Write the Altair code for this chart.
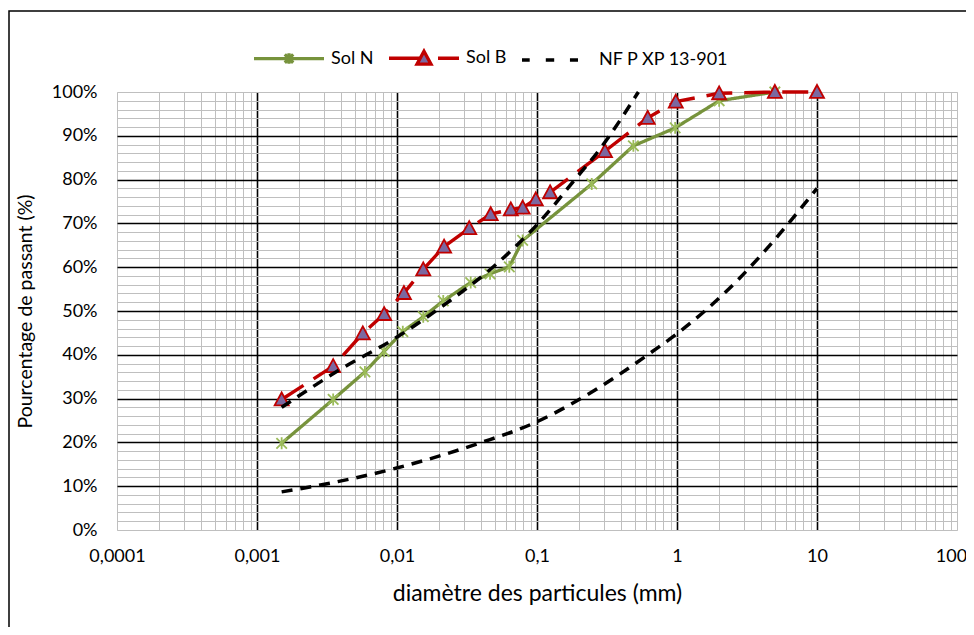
import altair as alt
import pandas as pd

series_names = ["Sol N", "Sol B", "NF P XP 13-901"]

# Sol N (green, asterisk markers)
sol_n_d = [0.0015, 0.0035, 0.0059, 0.0081, 0.011, 0.0154, 0.0214, 0.0336, 0.0462, 0.0634,
           0.079, 0.246, 0.488, 0.97, 2.0, 5.0]
sol_n_p = [19.8, 29.8, 36.1, 40.8, 45.3, 48.7, 52.3, 56.5, 58.5, 60.1,
           66.1, 79.0, 87.7, 91.8, 98.0, 100.0]

# Sol B (red dashed, triangle markers)
sol_b_d = [0.0015, 0.0035, 0.0057, 0.0081, 0.0112, 0.0154, 0.0217, 0.0328, 0.0467, 0.065,
           0.079, 0.098, 0.124, 0.306, 0.618, 0.98, 2.0, 5.0, 10.0]
sol_b_p = [29.8, 37.4, 44.9, 49.3, 54.1, 59.5, 64.7, 68.9, 72.1, 73.2,
           73.6, 75.5, 77.1, 86.5, 94.1, 97.8, 99.7, 100.0, 100.0]

# NF P XP 13-901 envelope (black dashed)
nf_upper_d = [0.0015, 0.0039, 0.00995, 0.0226, 0.0488, 0.111, 0.182, 0.282, 0.53]
nf_upper_p = [28.0, 36.6, 44.0, 51.8, 60.1, 71.3, 79.6, 87.0, 100.0]
nf_lower_d = [0.0015, 0.0031, 0.0098, 0.0393, 0.095, 0.216, 0.671, 0.98, 2.82, 4.0, 10.0]
nf_lower_p = [8.7, 10.5, 14.1, 19.9, 24.4, 30.4, 40.8, 44.6, 57.6, 62.8, 78.0]

x_decades = [0.0001, 0.001, 0.01, 0.1, 1, 10, 100]
y_ticks = list(range(0, 101, 2))

x_grid = []
for dec in x_decades[:-1]:
    for m in range(1, 10):
        x_grid.append(round(m * dec, 10))
x_grid.append(100)

rows_sol = []
for name, ds, ps in [("Sol N", sol_n_d, sol_n_p), ("Sol B", sol_b_d, sol_b_p)]:
    for i, (d, p) in enumerate(zip(ds, ps)):
        rows_sol.append({"d": d, "p": p, "series": name, "curve": name, "idx": i})
df_sol = pd.DataFrame(rows_sol)

rows_nf = []
for cname, ds, ps in [("upper", nf_upper_d, nf_upper_p), ("lower", nf_lower_d, nf_lower_p)]:
    for i, (d, p) in enumerate(zip(ds, ps)):
        rows_nf.append({"d": d, "p": p, "series": "NF P XP 13-901", "curve": cname, "idx": i})
df_nf = pd.DataFrame(rows_nf)

FONT = "Lato"
GRID_MINOR = "#BFBFBF"
GREEN = "#77933C"
GREEN_MARK = "#9BBB59"
RED = "#C00000"
PURPLE = "#7B68A0"

dec_test = "abs(log(datum.value)/LN10 - round(log(datum.value)/LN10)) < 1e-6"
x_major_test = dec_test + " && datum.value > 0.00011 && datum.value < 99"
y_major_test = "datum.value % 10 == 0 && datum.value > 0 && datum.value < 100"

x_axis = alt.Axis(
    values=x_grid, grid=True,
    gridColor={"condition": {"test": x_major_test, "value": "black"}, "value": GRID_MINOR},
    gridWidth={"condition": {"test": x_major_test, "value": 1.6}, "value": 1},
    labelExpr=dec_test + " ? replace(toString(datum.value), '.', ',') : ''",
    labelOffset={"condition": {"test": "datum.value > 99", "value": -6}, "value": 0},
    labelOverlap=False, labelFlush=False, labelFont=FONT, labelFontSize=18, labelColor="black",
    labelPadding=17, ticks=False, tickSize=0, domain=False,
    title="diamètre des particules (mm)", titleFont=FONT, titleFontSize=23,
    titleFontWeight="normal", titleColor="black", titleY=63, titleBaseline="middle",
)
y_axis = alt.Axis(
    values=y_ticks, grid=True,
    gridColor={"condition": {"test": y_major_test, "value": "black"}, "value": GRID_MINOR},
    gridWidth={"condition": {"test": y_major_test, "value": 1.6}, "value": 1},
    labelExpr="datum.value % 10 == 0 ? datum.value + '%' : ''",
    labelOverlap=False, labelFlush=False, labelFont=FONT, labelFontSize=18, labelColor="black",
    labelPadding=20, ticks=False, tickSize=0, domain=False,
    title="Pourcentage de passant (%)", titleFont=FONT, titleFontSize=19.5,
    titleFontWeight="normal", titleColor="black", titleX=-92, titleY=219,
    titleAngle=270, titleBaseline="middle",
)

x_enc = alt.X("d:Q", scale=alt.Scale(type="log", domain=[0.0001, 100], nice=False), axis=x_axis)
y_enc = alt.Y("p:Q", scale=alt.Scale(domain=[0, 100], nice=False), axis=y_axis)

# line styling scales (no legend here)
color_scale = alt.Scale(domain=series_names, range=[GREEN, RED, "black"])
dash_scale = alt.Scale(domain=series_names, range=[[1, 0], [26, 12], [11, 8]])
width_scale = alt.Scale(domain=series_names, range=[3.3, 3.5, 2.8])

color_enc = alt.Color("series:N", scale=color_scale, legend=None)
dash_enc = alt.StrokeDash("series:N", scale=dash_scale, legend=None)
width_enc = alt.StrokeWidth("series:N", scale=width_scale, legend=None)

# plot markers
asterisk = "M-0.15,-0.15L0.15,0.15M-0.15,0.15L0.15,-0.15M0,-0.17L0,0.17"
triangle = "M0,-0.2L0.2,0.17L-0.2,0.17Z"
mark_shape_scale = alt.Scale(domain=series_names, range=[asterisk, triangle, "M0,0"])
mark_fill_scale = alt.Scale(domain=series_names, range=["transparent", PURPLE, "transparent"])
mark_stroke_scale = alt.Scale(domain=series_names, range=[GREEN_MARK, RED, "transparent"])

# legend symbols: line + marker drawn as one symbol per entry
leg_n = "M-1,0H1M-0.12,-0.12L0.12,0.12M-0.12,0.12L0.12,-0.12M0,-0.15V0.15"
leg_b = "M-1,0H-0.12M0.4,0H1M0,-0.2L0.2,0.17L-0.2,0.17Z"
leg_nf = "M-1,0H-0.78M-0.32,0H-0.08M0.37,0H0.6"
leg_shape_scale = alt.Scale(domain=series_names, range=[leg_n, leg_b, leg_nf])
leg_fill_scale = alt.Scale(domain=series_names, range=["transparent", PURPLE, "transparent"])
leg_stroke_scale = alt.Scale(domain=series_names, range=[GREEN, RED, "black"])

legend = alt.Legend(
    title=None, orient="none", legendX=135, legendY=-71, direction="horizontal",
    symbolSize=4900, symbolStrokeWidth=3.3, symbolOpacity=1,
    labelFont=FONT, labelFontSize=18, labelColor="black", labelOffset=5,
    columnPadding=8, padding=0,
)

border = alt.Chart(alt.Data(values=[{"a": 1}])).mark_rect(
    fill="transparent", stroke="black", strokeWidth=1.5
).encode(
    x=alt.value(-108), x2=alt.value(900), y=alt.value(-81), y2=alt.value(700)
)

sol_lines = alt.Chart(df_sol).mark_line(strokeCap="butt", clip=False).encode(
    x=x_enc, y=y_enc, color=color_enc, strokeDash=dash_enc, strokeWidth=width_enc,
    detail="curve:N", order="idx:Q",
)

nf_lines = alt.Chart(df_nf).mark_line(strokeCap="butt", interpolate="monotone", clip=False).encode(
    x=x_enc, y=y_enc, color=color_enc, strokeDash=dash_enc, strokeWidth=width_enc,
    detail="curve:N", order="idx:Q",
)

points = alt.Chart(df_sol).mark_point(
    filled=True, size=4900, strokeWidth=1.8, opacity=1, fillOpacity=1, clip=False
).encode(
    x=x_enc, y=y_enc,
    shape=alt.Shape("series:N", scale=mark_shape_scale, legend=None),
    fill=alt.Fill("series:N", scale=mark_fill_scale, legend=None),
    stroke=alt.Stroke("series:N", scale=mark_stroke_scale, legend=None),
)

legend_layer = alt.Chart(df_sol).transform_filter("false").mark_point(
    filled=True, size=4900, opacity=1
).encode(
    x=x_enc, y=y_enc,
    shape=alt.Shape("series:N", scale=leg_shape_scale, legend=legend),
    fill=alt.Fill("series:N", scale=leg_fill_scale, legend=legend),
    stroke=alt.Stroke("series:N", scale=leg_stroke_scale, legend=legend),
)

chart = alt.layer(border, sol_lines, points, nf_lines, legend_layer).resolve_scale(
    shape="independent", fill="independent", stroke="independent"
).properties(
    width=840, height=438,
    padding={"left": 109, "top": 84, "right": 9, "bottom": 97},
    autosize=alt.AutoSizeParams(type="none"),
    background="white",
).configure_view(
    stroke="#A6A6A6", strokeWidth=2
).configure(font=FONT)

chart.save("out.html", embed_options={"renderer": "svg", "actions": False})
